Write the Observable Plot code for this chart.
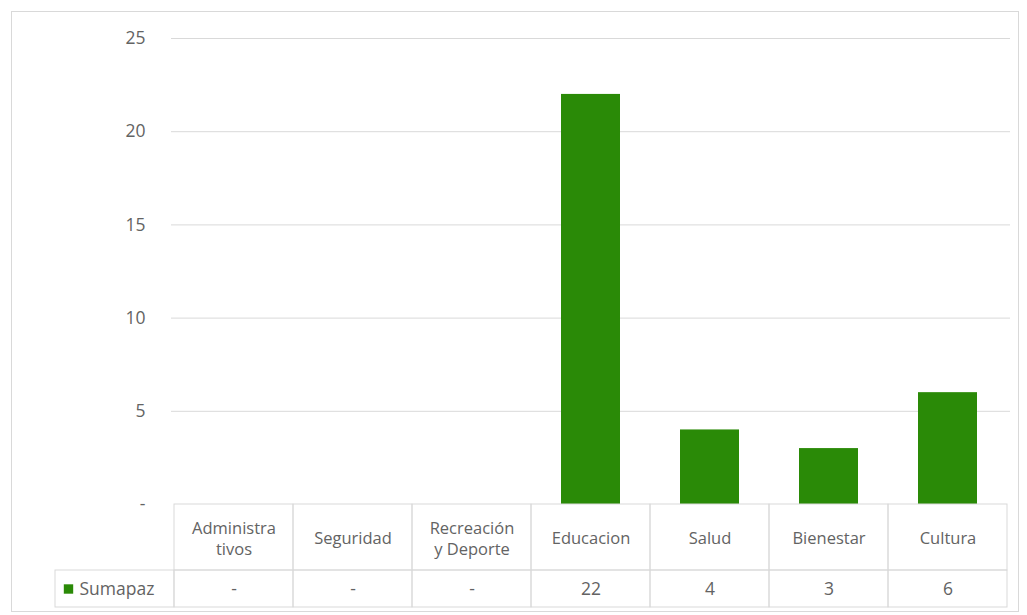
<!DOCTYPE html>
<html>
<head>
<meta charset="utf-8">
<script src="https://cdn.jsdelivr.net/npm/d3@7"></script>
<script src="https://cdn.jsdelivr.net/npm/@observablehq/plot@0.6"></script>
<style>
  html, body { margin: 0; padding: 0; background: #fff; }
  svg { display: block; }
</style>
</head>
<body>
<div id="chart"></div>
<script>
const categories = ["Administrativos", "Seguridad", "Recreación y Deporte", "Educacion", "Salud", "Bienestar", "Cultura"];
const headerLabels = ["Administra\ntivos", "Seguridad", "Recreación\ny Deporte", "Educacion", "Salud", "Bienestar", "Cultura"];
const values = [0, 0, 0, 22, 4, 3, 6];
const seriesName = "Sumapaz";
const yTicks = [0, 5, 10, 15, 20, 25];

const data = categories.map((c, i) => ({cat: c, label: headerLabels[i], value: values[i]}));

const W = 1027, H = 615;
const mTop = 38, mBottom = 111, mLeft = 171, mRight = 17;
const frameH = H - mTop - mBottom;
const headerH = 66, rowH = 37;

const green = "#2a8a07";
const gridColor = "#d9d9d9";
const textColor = "#636363";
const font = "'Open Sans', 'Noto Sans', sans-serif";
const fs = 16.5;

const plot = Plot.plot({
  width: W,
  height: H,
  marginTop: mTop,
  marginBottom: mBottom,
  marginLeft: mLeft,
  marginRight: mRight,
  style: {fontFamily: font, fontSize: fs + "px", color: textColor, background: "#fff"},
  x: {domain: categories, padding: 0, axis: null},
  y: {domain: [0, 25], ticks: yTicks, tickFormat: d => d === 0 ? "-" : d, tickSize: 0, tickPadding: 26, label: null},
  marks: [
    // outer chart border
    Plot.frame({stroke: "#d9d9d9", insetTop: -27, insetLeft: -160, insetRight: -8, insetBottom: -107}),
    Plot.gridY(yTicks.filter(d => d > 0), {stroke: gridColor, strokeOpacity: 1}),
    Plot.axisY({ticks: yTicks, tickFormat: d => d === 0 ? "-" : d, tickSize: 0, tickPadding: 26, fontSize: 17.5, fill: textColor, label: null}),
    Plot.barY(data, {x: "cat", y: "value", fill: green, insetLeft: 30, insetRight: 30}),
    // table header row
    Plot.cell(data, {x: "cat", fill: "none", stroke: gridColor, insetTop: frameH, insetBottom: -headerH}),
    // table value row
    Plot.cell(data, {x: "cat", fill: "none", stroke: gridColor, insetTop: frameH + headerH, insetBottom: -(headerH + rowH)}),
    // legend cell
    Plot.cell([data[0]], {x: "cat", dx: -119, fill: "none", stroke: gridColor, insetTop: frameH + headerH, insetBottom: -(headerH + rowH)}),
    Plot.text(data, {x: "cat", text: "label", frameAnchor: "bottom", dy: headerH / 2, lineAnchor: "middle", fill: textColor, fontSize: fs, lineHeight: 1.3, letterSpacing: 0.5}),
    Plot.text(data, {x: "cat", text: d => d.value === 0 ? "-" : String(d.value), frameAnchor: "bottom", dy: headerH + rowH / 2, lineAnchor: "middle", fill: textColor, fontSize: 17.5}),
    Plot.dot([seriesName], {frameAnchor: "bottom-left", dx: -103, dy: headerH + rowH / 2, symbol: "square", r: 5.3, fill: green}),
    Plot.text([seriesName], {frameAnchor: "bottom-left", dx: -92, dy: headerH + rowH / 2, text: d => d, textAnchor: "start", lineAnchor: "middle", fill: textColor, fontSize: 17.5})
  ]
});

document.getElementById("chart").appendChild(plot);
</script>
</body>
</html>
